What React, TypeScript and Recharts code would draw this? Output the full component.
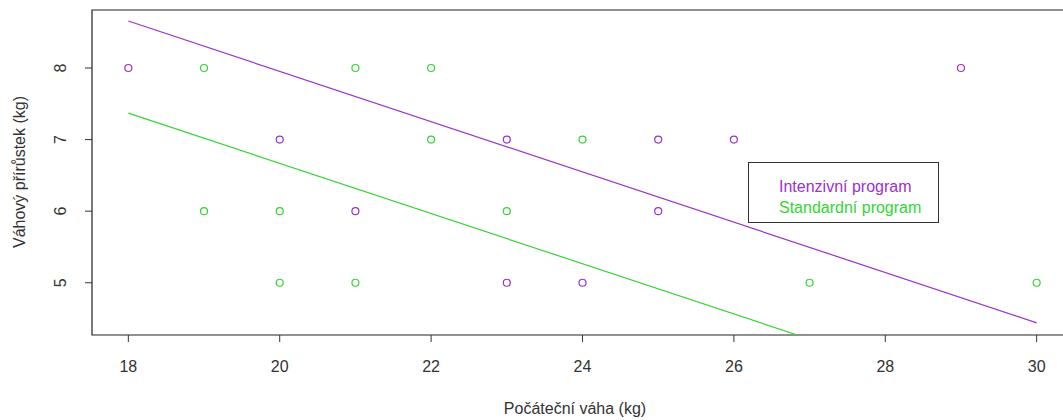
import {
  ComposedChart,
  Scatter,
  XAxis,
  YAxis,
  ReferenceArea,
  Legend,
} from 'recharts'

const PURPLE = '#9932CC'
const GREEN = '#33D633'
const INK = '#333333'

// Intenzivní program: počáteční váha vs. přírůstek
const intX = [18, 20, 21, 23, 23, 24, 25, 25, 26, 29]
const intY = [8, 7, 6, 7, 5, 5, 7, 6, 7, 8]

// Standardní program
const stdX = [19, 21, 22, 19, 20, 20, 21, 22, 23, 24, 27, 30]
const stdY = [8, 8, 8, 6, 6, 5, 5, 7, 6, 7, 5, 5]

// fitted lines (end points)
const fitX = [18, 30]
const intFitY = [8.656, 4.44]
const stdFitY = [7.37, 3.16]

const xTicks = [18, 20, 22, 24, 26, 28, 30]
const yTicks = [5, 6, 7, 8]
const xDomain: [number, number] = [17.52, 30.48]
const yDomain: [number, number] = [4.27, 8.81]

const legendItems = [
  { name: 'Intenzivní program', color: PURPLE },
  { name: 'Standardní program', color: GREEN },
]

const toPoints = (xs: number[], ys: number[]) => xs.map((x, i) => ({ x, y: ys[i] }))

const intData = toPoints(intX, intY)
const stdData = toPoints(stdX, stdY)
const intFit = toPoints(fitX, intFitY)
const stdFit = toPoints(fitX, stdFitY)

const ring = (color: string) => (props: any) => (
  <circle cx={props.cx} cy={props.cy} r={3.5} fill="none" stroke={color} strokeWidth={1.2} />
)

const noDot = () => <g />

function YTick({ y, payload }: any) {
  return (
    <text
      x={66}
      y={y}
      transform={`rotate(-90, 66, ${y})`}
      textAnchor="middle"
      fill={INK}
      fontSize={16}
    >
      {payload.value}
    </text>
  )
}

function ChartLegend() {
  return (
    <div
      style={{
        position: 'absolute',
        left: 748,
        top: 162,
        width: 191,
        height: 61,
        border: `1px solid ${INK}`,
        boxSizing: 'border-box',
        background: '#fff',
        paddingLeft: 30,
        paddingTop: 13,
        fontSize: 16,
        lineHeight: '21px',
      }}
    >
      {legendItems.map((item) => (
        <div key={item.name} style={{ color: item.color, whiteSpace: 'nowrap' }}>
          {item.name}
        </div>
      ))}
    </div>
  )
}

export default function App() {
  return (
    <div
      style={{
        position: 'absolute',
        left: 0,
        top: 0,
        width: 1063,
        height: 420,
        overflow: 'hidden',
        background: '#fff',
        fontFamily: '"Liberation Sans", Arial, sans-serif',
      }}
    >
      <ComposedChart width={1085} height={420} margin={{ top: 10, right: 12, left: 0, bottom: 0 }}>
        <XAxis
          type="number"
          dataKey="x"
          domain={xDomain}
          ticks={xTicks}
          allowDataOverflow
          axisLine={false}
          tickLine={{ stroke: INK }}
          tickSize={7}
          tickMargin={19}
          height={85}
          tick={{ fill: INK, fontSize: 16 }}
          label={{
            content: () => (
              <text x={575} y={414} textAnchor="middle" fill={INK} fontSize={16}>
                Počáteční váha (kg)
              </text>
            ),
          }}
        />
        <YAxis
          type="number"
          dataKey="y"
          domain={yDomain}
          ticks={yTicks}
          allowDataOverflow
          axisLine={false}
          tickLine={{ stroke: INK }}
          tickSize={7}
          width={92}
          tick={<YTick />}
          label={{
            content: () => (
              <text
                x={25}
                y={172}
                transform="rotate(-90, 25, 172)"
                textAnchor="middle"
                fill={INK}
                fontSize={16}
              >
                Váhový přírůstek (kg)
              </text>
            ),
          }}
        />
        <ReferenceArea
          x1={xDomain[0]}
          x2={xDomain[1]}
          y1={yDomain[0]}
          y2={yDomain[1]}
          fill="none"
          stroke="#222"
          strokeWidth={1.2}
        />
        <Scatter data={intFit} line={{ stroke: PURPLE, strokeWidth: 1.2 }} shape={noDot} isAnimationActive={false} />
        <Scatter data={stdFit} line={{ stroke: GREEN, strokeWidth: 1.2 }} shape={noDot} isAnimationActive={false} />
        <Scatter data={intData} shape={ring(PURPLE)} isAnimationActive={false} />
        <Scatter data={stdData} shape={ring(GREEN)} isAnimationActive={false} />
        <Legend content={() => null} />
      </ComposedChart>
      <ChartLegend />
    </div>
  )
}
